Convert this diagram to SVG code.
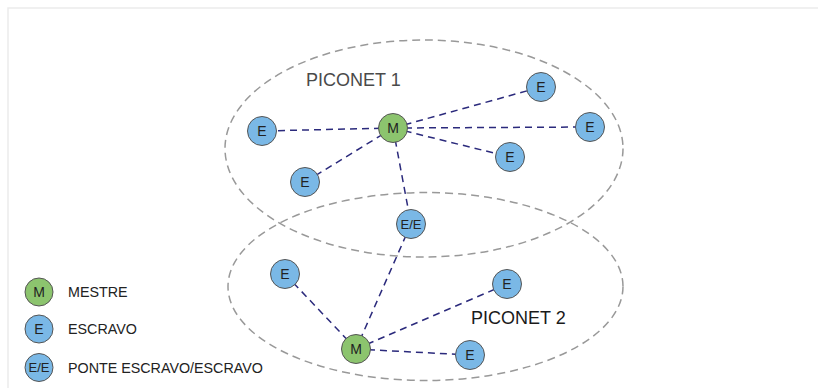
<svg xmlns="http://www.w3.org/2000/svg" width="818" height="388" viewBox="0 0 818 388">
<style>
.frame{fill:none;stroke:#ebebeb;stroke-width:1.5}
.area{fill:none;stroke:#999;stroke-width:1.5;stroke-dasharray:8 5}
.link{stroke:#2b2a7c;stroke-width:1.5;stroke-dasharray:7 5;fill:none}
.m{fill:#8cc46e;stroke:#555;stroke-width:1}
.e{fill:#7ab8e6;stroke:#555;stroke-width:1}
.lbl{font-family:"Liberation Sans",Arial,sans-serif;font-size:14px;fill:#222;text-anchor:middle}
.small{font-size:13px}
.title{font-family:"Liberation Sans",Arial,sans-serif;font-size:18px}
.leg{font-family:"Liberation Sans",Arial,sans-serif;font-size:14.3px;fill:#222}
</style>
<rect width="818" height="388" fill="#fff"/>
<path class="frame" d="M8 388 V8 H818"/>
<g id="piconet1-area"><ellipse class="area" cx="424" cy="148.5" rx="199" ry="108.5"/></g>
<g id="piconet2-area"><ellipse class="area" cx="425.5" cy="286.5" rx="197.5" ry="94"/></g>
<g id="connectors">
<line class="link" x1="393" y1="128" x2="262" y2="131"/>
<line class="link" x1="393" y1="128" x2="305" y2="182"/>
<line class="link" x1="393" y1="128" x2="541" y2="87"/>
<line class="link" x1="393" y1="128" x2="590" y2="127"/>
<line class="link" x1="393" y1="128" x2="510" y2="157"/>
<line class="link" x1="393" y1="128" x2="411" y2="224"/>
<line class="link" x1="411" y1="224" x2="356" y2="349"/>
<line class="link" x1="356" y1="349" x2="285" y2="274"/>
<line class="link" x1="356" y1="349" x2="507" y2="284"/>
<line class="link" x1="356" y1="349" x2="470" y2="355"/>
</g>
<g id="m1"><circle class="m" cx="393" cy="128" r="14.5"/><text class="lbl" x="393" y="133">M</text></g>
<g id="e1"><circle class="e" cx="262" cy="131" r="14.5"/><text class="lbl" x="262" y="136">E</text></g>
<g id="e2"><circle class="e" cx="305" cy="182" r="14.5"/><text class="lbl" x="305" y="187">E</text></g>
<g id="e3"><circle class="e" cx="541" cy="87" r="14.5"/><text class="lbl" x="541" y="92">E</text></g>
<g id="e4"><circle class="e" cx="590" cy="127" r="14.5"/><text class="lbl" x="590" y="132">E</text></g>
<g id="e5"><circle class="e" cx="510" cy="157" r="14.5"/><text class="lbl" x="510" y="162">E</text></g>
<g id="ee"><circle class="e" cx="411" cy="224" r="14.5"/><text class="lbl small" x="411" y="228.5">E/E</text></g>
<g id="m2"><circle class="m" cx="356" cy="349" r="14.5"/><text class="lbl" x="356" y="354">M</text></g>
<g id="e6"><circle class="e" cx="285" cy="274" r="14.5"/><text class="lbl" x="285" y="279">E</text></g>
<g id="e7"><circle class="e" cx="507" cy="284" r="14.5"/><text class="lbl" x="507" y="289">E</text></g>
<g id="e8"><circle class="e" cx="470" cy="355" r="14.5"/><text class="lbl" x="470" y="360">E</text></g>
<text class="title" x="306" y="86" fill="#4a4a4a">PICONET 1</text>
<text class="title" x="471" y="324" fill="#1a1a1a">PICONET 2</text>
<g id="legend-m"><circle class="m" cx="39" cy="292" r="14"/><text class="lbl" x="39" y="297">M</text><text class="leg" x="68" y="297">MESTRE</text></g>
<g id="legend-e"><circle class="e" cx="39" cy="329" r="14"/><text class="lbl" x="39" y="334">E</text><text class="leg" x="68" y="334">ESCRAVO</text></g>
<g id="legend-ee"><circle class="e" cx="39" cy="367.5" r="14"/><text class="lbl small" x="39" y="372">E/E</text><text class="leg" x="68" y="372.5">PONTE ESCRAVO/ESCRAVO</text></g>
</svg>
